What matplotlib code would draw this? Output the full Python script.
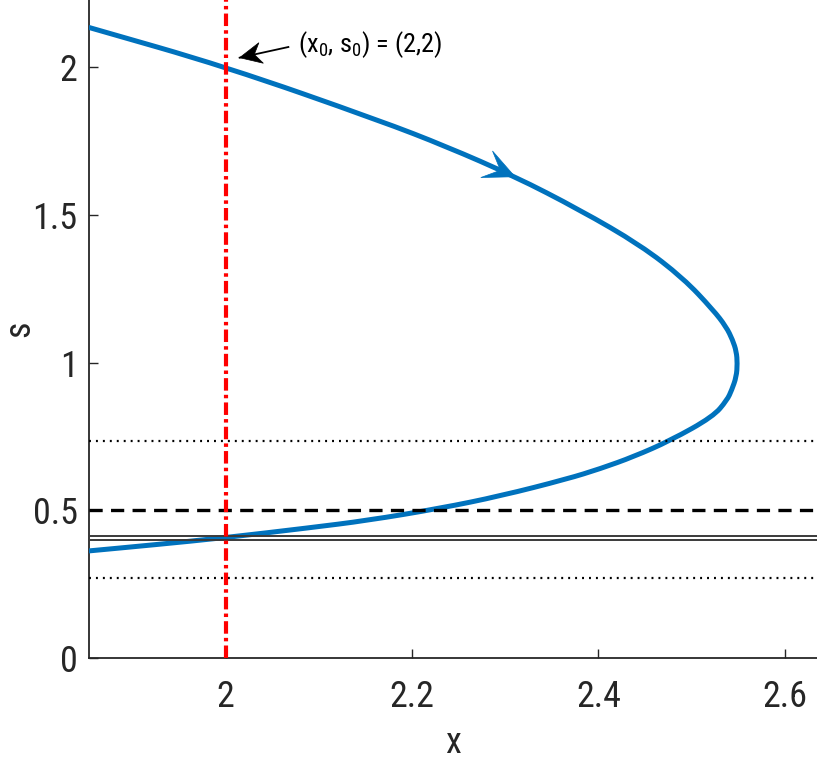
import numpy as np
import matplotlib
matplotlib.use('Agg')
import matplotlib.pyplot as plt
from matplotlib.patches import Polygon, PathPatch
from matplotlib.path import Path

# trajectory (x, s), starting at the top-left end
curve_x = [1.853, 2.000, 2.166, 2.237, 2.309, 2.380, 2.445, 2.491, 2.523,
           2.537, 2.544, 2.548, 2.549, 2.548, 2.543, 2.538, 2.523, 2.477, 2.438,
           2.402, 2.366, 2.295, 2.230, 2.152, 2.089, 2.000, 1.924, 1.853]
curve_s = [2.133, 2.000, 1.817, 1.730, 1.631, 1.516, 1.397, 1.285, 1.178,
           1.121, 1.076, 1.037, 0.997, 0.952, 0.907, 0.873, 0.817, 0.736, 0.682,
           0.641, 0.606, 0.549, 0.507, 0.466, 0.441, 0.408, 0.384, 0.363]

x0, s0 = 2.0, 2.0
dotted_levels = [0.734, 0.271]
dashed_level = 0.5
solid_levels = [0.414, 0.401]

arrow_tip = (2.3105, 1.628)
arrow_back = (2.237, 1.730)

note_text = '(x$_0$, s$_0$) = (2,2)'
note_tip = (2.015, 2.0305)
note_tail = (2.0673, 2.0666)
note_pos = (2.078, 2.049)

xticks = [2, 2.2, 2.4, 2.6]
xticklabels = ['2', '2.2', '2.4', '2.6']
yticks = [0, 0.5, 1, 1.5, 2]
yticklabels = ['0', '0.5', '1', '1.5', '2']

FONT = 'Roboto Condensed'
plt.rcParams['font.family'] = [FONT, 'Liberation Sans', 'DejaVu Sans']
plt.rcParams['mathtext.fontset'] = 'custom'
plt.rcParams['mathtext.rm'] = FONT
plt.rcParams['mathtext.it'] = FONT
plt.rcParams['lines.scale_dashes'] = False

BLUE = '#0072BD'
AXC = '#262626'


def smooth_path(xs, ys):
    # quadratic curves through the midpoints of the read points
    pts = np.column_stack([xs, ys])
    mids = (pts[:-1] + pts[1:]) / 2
    verts = [pts[0], mids[0]]
    codes = [Path.MOVETO, Path.LINETO]
    for i in range(1, len(pts) - 1):
        verts += [pts[i], mids[i]]
        codes += [Path.CURVE3, Path.CURVE3]
    verts.append(pts[-1])
    codes.append(Path.LINETO)
    return Path(verts, codes)


def stealth_head(ax, tip, back, length, half_width, notch, color):
    # notched arrow head, sizes in pixels, direction taken from back -> tip
    p_tip = ax.transData.transform(tip)
    p_back = ax.transData.transform(back)
    d = p_tip - p_back
    d = d / np.hypot(*d)
    n = np.array([-d[1], d[0]])
    pts = [p_tip,
           p_tip - length * d + half_width * n,
           p_tip - notch * d,
           p_tip - length * d - half_width * n]
    pts = ax.transData.inverted().transform(pts)
    ax.add_patch(Polygon(pts, closed=True, facecolor=color, edgecolor=color,
                         lw=0.5, zorder=6, clip_on=False))


fig = plt.figure(figsize=(8.17, 7.63), dpi=100)
ax = fig.add_axes([0.1085, 0.1372, 0.8915, 0.8628])

ax.add_patch(PathPatch(smooth_path(curve_x, curve_s), facecolor='none',
                       edgecolor=BLUE, lw=3.6, capstyle='butt', zorder=3))

for lev in dotted_levels:
    ax.axhline(lev, color='black', lw=1.6, dashes=(1.4, 3.6), zorder=4)
ax.axhline(dashed_level, color='black', lw=2.4, dashes=(9.5, 6), zorder=4)
for lev in solid_levels:
    ax.axhline(lev, color='#3a3a3a', lw=1.4, zorder=4)

ax.axvline(x0, color='red', lw=3, dashes=(9, 3, 2.5, 3), zorder=5)

ax.set_xlim(1.853, 2.6345)
ax.set_ylim(0, 2.2255)

stealth_head(ax, arrow_tip, arrow_back, 31, 14.5, 16, BLUE)

ax.plot([note_tail[0], note_tip[0]], [note_tail[1], note_tip[1]], color='black',
        lw=1.3, zorder=6, clip_on=False)
stealth_head(ax, note_tip, note_tail, 22, 10.5, 15, 'black')
ax.text(note_pos[0], note_pos[1], note_text, fontsize=19, ha='left', va='baseline',
        color='black')

ax.set_xticks(xticks)
ax.set_xticklabels(xticklabels)
ax.set_yticks(yticks)
ax.set_yticklabels(yticklabels)
ax.tick_params(direction='in', length=6.5, width=1, color=AXC, labelsize=26,
               labelcolor=AXC)
ax.tick_params(axis='x', pad=15)
ax.tick_params(axis='y', pad=8)

for side in ['top', 'right']:
    ax.spines[side].set_visible(False)
for side in ['left', 'bottom']:
    ax.spines[side].set_color(AXC)
    ax.spines[side].set_linewidth(1.3)

ax.set_xlabel('x', fontsize=26, color=AXC)
ax.set_ylabel('s', fontsize=26, color=AXC)
ax.xaxis.set_label_coords(0.5, -0.1015)
ax.yaxis.set_label_coords(-0.070, 0.5)

fig.savefig('out.png', dpi=100)
